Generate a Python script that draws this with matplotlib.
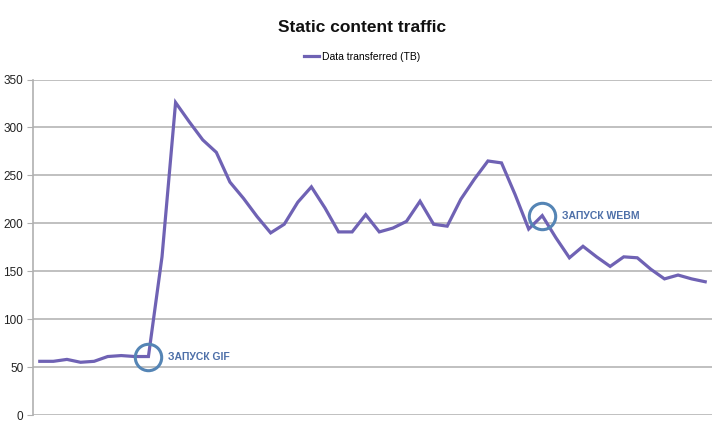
import matplotlib
matplotlib.use("Agg")
import matplotlib.pyplot as plt
import numpy as np

# weekly traffic
traffic = [56, 56, 58, 55, 56, 61, 62, 61, 61, 165,
           326, 306, 287, 274, 243, 226, 207, 190, 199, 222,
           238, 216, 191, 191, 209, 191, 195, 202, 223, 199,
           197, 225, 246, 265, 263, 230, 194, 208, 185, 164,
           176, 165, 155, 165, 164, 152, 142, 146, 142, 139]
yticks = [0, 50, 100, 150, 200, 250, 300, 350]
events = ["ЗАПУСК GIF", "ЗАПУСК WEBM"]
event_idx = [8, 37]

plt.rcParams['font.family'] = ['Liberation Sans', 'DejaVu Sans']

fig = plt.figure(figsize=(7.24, 4.30), dpi=100)
ax = fig.add_axes([33/724, 15/430, 679/724, 335.5/430])

x = np.arange(len(traffic))
ax.plot(x, traffic, color='#6f62b4', lw=2.3, solid_joinstyle='miter',
        label='Data transferred (TB)', zorder=3)

for name, i in zip(events, event_idx):
    ax.plot(i, traffic[i], 'o', ms=19, mfc='none', mec='#5585b5', mew=2.2, zorder=4)
    ax.annotate(name, (i, traffic[i]), xytext=(14, 0), textcoords='offset points',
                va='center', ha='left', fontsize=7.5, fontweight='bold', color='#4d6fa8')

ax.set_xlim(-0.5, len(traffic) - 0.5)
ax.set_ylim(0, 350)
ax.set_yticks(yticks)
ax.set_xticks([])
ax.grid(axis='y', color='#c0c0c0', lw=1.4)
ax.set_axisbelow(True)
for s in ['top', 'right', 'bottom']:
    ax.spines[s].set_visible(False)
ax.spines['left'].set_color('#b0b0b0')
ax.spines['left'].set_linewidth(1.2)
ax.tick_params(axis='y', length=4, color='#b0b0b0', labelsize=8.5, pad=3, labelcolor='#222222')

fig.text(0.5, 1 - 27/430, 'Static content traffic', ha='center', va='center',
         fontsize=12.5, fontweight='bold', color='#111111')
fig.legend(loc='center', bbox_to_anchor=(0.5, 1 - 57/430), frameon=False,
           fontsize=7.5, handlelength=1.4, handletextpad=0.3)

fig.savefig('out.png', dpi=100)
